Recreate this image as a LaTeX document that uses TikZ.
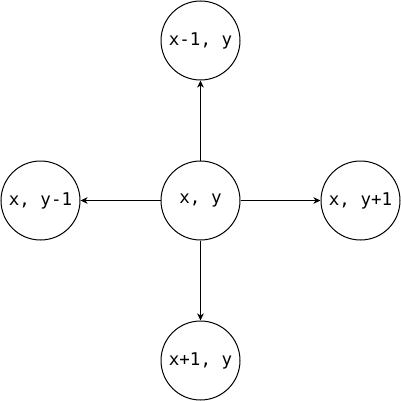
\documentclass[tikz,border=0pt]{standalone}
\usepackage{fontspec}
\setmonofont{DejaVu Sans Mono}
\usetikzlibrary{arrows.meta}
\begin{document}
\begin{tikzpicture}[x=1pt,y=-1pt,
  cell/.style={circle,draw=black,line width=1pt,minimum size=79pt,inner sep=0pt,font=\ttfamily\fontsize{17.5pt}{20pt}\selectfont},
  conn/.style={line width=1pt,-{Stealth[length=7pt,width=6.5pt,inset=2pt]}}]
\useasboundingbox (0,0) rectangle (401,401);
\node[cell] (c) at (200.5,200.5) {x, y};
\node[cell] (t) at (200.5,40.5) {x-1, y};
\node[cell] (l) at (40.5,200.5) {x, y-1};
\node[cell] (r) at (360.5,200.5) {x, y+1};
\node[cell] (b) at (200.5,360.5) {x+1, y};
\draw[conn] (c) -- (t);
\draw[conn] (c) -- (l);
\draw[conn] (c) -- (r);
\draw[conn] (c) -- (b);
\end{tikzpicture}
\end{document}
